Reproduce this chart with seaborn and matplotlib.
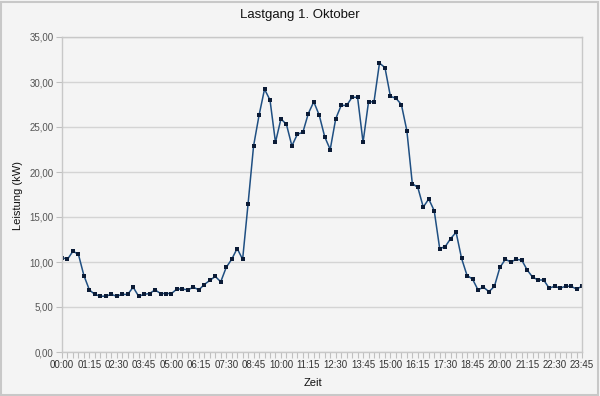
import numpy as np
import pandas as pd
import matplotlib
matplotlib.use("Agg")
import matplotlib.pyplot as plt
import seaborn as sns
from matplotlib.ticker import FuncFormatter, MultipleLocator

# Zeitpunkte (15-Minuten-Raster)
zeiten = [f"{h:02d}:{m:02d}" for h in range(24) for m in (0, 15, 30, 45)]

# Leistung in kW
leistung = [
    10.5, 10.3, 11.2, 10.85, 8.5, 6.9, 6.4, 6.2, 6.2, 6.4,
    6.2, 6.4, 6.4, 7.2, 6.2, 6.4, 6.5, 6.9, 6.5, 6.5,
    6.5, 7.0, 7.0, 6.9, 7.2, 6.9, 7.5, 7.95, 8.4, 7.8,
    9.4, 10.3, 11.5, 10.3, 16.5, 22.9, 26.3, 29.2, 28.0, 23.3,
    25.9, 25.3, 22.9, 24.2, 24.4, 26.5, 27.8, 26.3, 23.9, 22.5,
    25.9, 27.4, 27.4, 28.3, 28.3, 23.3, 27.8, 27.8, 32.1, 31.6,
    28.4, 28.2, 27.5, 24.6, 18.7, 18.3, 16.1, 17.0, 15.7, 11.5,
    11.7, 12.6, 13.3, 10.4, 8.5, 8.1, 6.9, 7.2, 6.7, 7.3,
    9.4, 10.3, 10.0, 10.3, 10.2, 9.1, 8.3, 8.0, 8.0, 7.1,
    7.3, 7.1, 7.3, 7.3, 7.0, 7.3,
]

df = pd.DataFrame({"idx": range(len(zeiten)), "Zeit": zeiten, "kW": leistung})

sns.set_style("whitegrid", {"axes.facecolor": "#f4f4f4", "figure.facecolor": "#f4f4f4",
                            "grid.color": "#d4d4d4", "axes.edgecolor": "#c8c8c8"})
plt.rcParams['font.family'] = ['Liberation Sans', 'DejaVu Sans']

fig = plt.figure(figsize=(6, 3.96), dpi=100)
ax = fig.add_axes([62 / 600, 44 / 396, 520 / 600, 315 / 396])

sns.lineplot(data=df, x="idx", y="kW", ax=ax, color="#1f4f82", linewidth=1.1,
             marker="s", markersize=2.6, markerfacecolor="#0b1b36",
             markeredgewidth=0)

ax.set_xlim(0, len(zeiten) - 1)
ax.set_ylim(0, 35)
ax.yaxis.set_major_locator(MultipleLocator(5))
ax.yaxis.set_major_formatter(FuncFormatter(lambda v, p: f"{v:.2f}".replace(".", ",")))
ax.set_xticks(df["idx"][::5])
ax.set_xticklabels(df["Zeit"][::5])
ax.set_xticks(df["idx"], minor=True)
ax.grid(axis="x", which="both", visible=False)
ax.grid(axis="y", color="#d4d4d4", linewidth=1)

ax.tick_params(axis="x", which="both", direction="out", length=4, width=0.8,
               color="#c0c0c0", labelsize=7, labelcolor="#333333", pad=2, bottom=True)
ax.tick_params(axis="y", direction="out", length=4, width=0.8, color="#c0c0c0",
               labelsize=7, labelcolor="#555555", pad=2, left=True)
for s in ax.spines.values():
    s.set_color("#c8c8c8")
    s.set_linewidth(1)

ax.set_xlabel("")
ax.set_ylabel("")
fig.text(18 / 600, 1 - 195 / 396, "Leistung (kW)", fontsize=8, color="#111111",
         ha="center", va="center", rotation=90)
fig.text(313 / 600, 1 - 383 / 396, "Zeit", fontsize=8, color="#111111",
         ha="center", va="center")
fig.text(0.5, 1 - 15 / 396, "Lastgang 1. Oktober", fontsize=9.5, color="#111111",
         ha="center", va="center")

# Rahmen um die Grafik
fig.patches.append(plt.Rectangle((0.002, 0.002), 0.995, 0.994, transform=fig.transFigure,
                                 fill=False, edgecolor="#c8c8c8", linewidth=1.5))

fig.savefig("out.png", dpi=100, facecolor=fig.get_facecolor())
